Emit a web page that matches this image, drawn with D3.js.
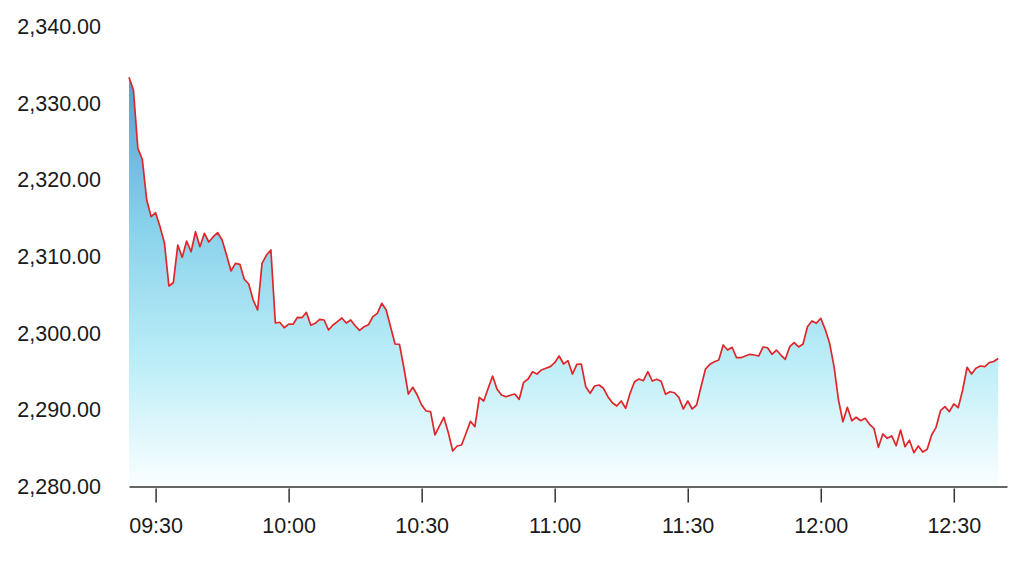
<!DOCTYPE html>
<html>
<head>
<meta charset="utf-8">
<script src="https://cdn.jsdelivr.net/npm/d3@7"></script>
<style>
  html, body { margin: 0; padding: 0; background: #fff; }
  svg { display: block; }
  .tick text { font-family: "Liberation Sans", Arial, sans-serif; font-size: 21.5px; fill: #1a1a1a; }
</style>
</head>
<body>
<svg id="chart" width="1024" height="563"></svg>
<script>
// minute prices, first sample at 09:24
var startTime = "09:24";
var endTime = "12:42";
var prices = [
  2333.37, 2331.72, 2324.11, 2322.68, 2317.37, 2315.19, 2315.71, 2313.89, 2311.72, 2306.15,
  2306.58, 2311.50, 2309.89, 2312.02, 2310.62, 2313.23, 2311.28, 2313.02, 2311.89, 2312.58,
  2313.10, 2312.15, 2310.19, 2308.11, 2309.11, 2308.98, 2307.03, 2306.41, 2304.33, 2303.02,
  2309.11, 2310.19, 2310.85, 2301.33, 2301.42, 2300.71, 2301.19, 2301.16, 2302.07, 2302.02,
  2302.72, 2301.03, 2301.29, 2301.81, 2301.72, 2300.41, 2301.06, 2301.50, 2301.98, 2301.33,
  2301.72, 2300.97, 2300.37, 2300.84, 2301.10, 2302.15, 2302.59, 2303.89, 2303.02, 2300.80,
  2298.59, 2298.55, 2295.46, 2292.06, 2292.94, 2291.93, 2290.63, 2289.85, 2289.76, 2286.72,
  2287.89, 2289.03, 2287.04, 2284.63, 2285.28, 2285.41, 2286.94, 2288.50, 2287.80, 2291.63,
  2291.15, 2292.81, 2294.41, 2292.68, 2291.93, 2291.71, 2291.90, 2292.06, 2291.37, 2293.59,
  2294.02, 2294.97, 2294.67, 2295.20, 2295.42, 2295.63, 2296.15, 2297.02, 2295.98, 2296.41,
  2294.67, 2295.94, 2295.98, 2293.02, 2292.16, 2293.11, 2293.24, 2292.81, 2291.71, 2290.93,
  2290.50, 2291.15, 2290.20, 2292.16, 2293.67, 2294.02, 2293.80, 2294.97, 2293.76, 2293.98,
  2293.72, 2292.03, 2292.36, 2292.23, 2291.63, 2290.11, 2291.15, 2290.11, 2290.63, 2293.02,
  2295.33, 2295.94, 2296.28, 2296.50, 2298.46, 2297.80, 2298.16, 2296.80, 2296.80, 2297.02,
  2297.24, 2297.15, 2297.02, 2298.20, 2298.10, 2297.24, 2297.80, 2297.15, 2296.59, 2298.23,
  2298.76, 2298.20, 2298.59, 2300.84, 2301.59, 2301.29, 2301.94, 2300.50, 2298.68, 2295.63,
  2291.28, 2288.45, 2290.33, 2288.58, 2289.03, 2288.58, 2288.90, 2288.11, 2287.59, 2285.11,
  2286.85, 2286.29, 2286.59, 2285.32, 2287.37, 2285.19, 2286.03, 2284.41, 2285.28, 2284.50,
  2284.85, 2286.72, 2287.72, 2289.89, 2290.41, 2289.76, 2290.76, 2290.28, 2292.59, 2295.55,
  2294.67, 2295.42, 2295.72, 2295.63, 2296.15, 2296.30, 2296.70
];
var xTicks = ["09:30", "10:00", "10:30", "11:00", "11:30", "12:00", "12:30"];
var yTicks = [2280, 2290, 2300, 2310, 2320, 2330, 2340];

(function () {
  var parseTime = d3.timeParse("%H:%M");
  var t0 = parseTime(startTime);
  var data = prices.map(function (p, i) {
    return { t: d3.timeMinute.offset(t0, i), v: p };
  });

  var svg = d3.select("#chart");
  var plotLeft = 129, plotRight = 1007, plotTop = 26.5, plotBottom = 486.5;

  var x = d3.scaleTime()
    .domain([t0, parseTime(endTime)])
    .range([plotLeft, plotRight]);
  var y = d3.scaleLinear()
    .domain([yTicks[0], yTicks[yTicks.length - 1]])
    .range([plotBottom, plotTop]);

  // area gradient, dark blue at the top of the data fading to white
  var grad = svg.append("defs").append("linearGradient")
    .attr("id", "fill")
    .attr("gradientUnits", "userSpaceOnUse")
    .attr("x1", 0).attr("x2", 0)
    .attr("y1", y(d3.max(prices))).attr("y2", y(yTicks[0]));
  grad.append("stop").attr("offset", "0%").attr("stop-color", "#56a0d3");
  grad.append("stop").attr("offset", "35%").attr("stop-color", "#86d0ea");
  grad.append("stop").attr("offset", "70%").attr("stop-color", "#bdeef8");
  grad.append("stop").attr("offset", "100%").attr("stop-color", "#fafeff");

  var area = d3.area()
    .x(function (d) { return x(d.t); })
    .y0(y(yTicks[0]))
    .y1(function (d) { return y(d.v); });
  var line = d3.line()
    .x(function (d) { return x(d.t); })
    .y(function (d) { return y(d.v); });

  svg.append("path")
    .datum(data)
    .attr("d", area)
    .attr("fill", "url(#fill)");

  svg.append("path")
    .datum(data)
    .attr("d", line)
    .attr("fill", "none")
    .attr("stroke", "#e0262a")
    .attr("stroke-width", 1.7)
    .attr("stroke-linejoin", "round");

  // x axis
  var xAxis = d3.axisBottom(x)
    .tickValues(xTicks.map(parseTime))
    .tickFormat(d3.timeFormat("%H:%M"))
    .tickSizeInner(16)
    .tickSizeOuter(0)
    .tickPadding(15);
  var gx = svg.append("g")
    .attr("transform", "translate(0," + plotBottom + ")")
    .call(xAxis);
  gx.select(".domain").attr("stroke", "#333").attr("stroke-width", 1.5);
  gx.selectAll(".tick line").attr("stroke", "#333").attr("stroke-width", 1.5).attr("y1", 2);

  // y axis: labels only
  var yAxis = d3.axisLeft(y)
    .tickValues(yTicks)
    .tickFormat(d3.format(",.2f"))
    .tickSize(0)
    .tickPadding(28);
  var gy = svg.append("g")
    .attr("transform", "translate(" + plotLeft + ",0)")
    .call(yAxis);
  gy.select(".domain").remove();
})();
</script>
</body>
</html>
